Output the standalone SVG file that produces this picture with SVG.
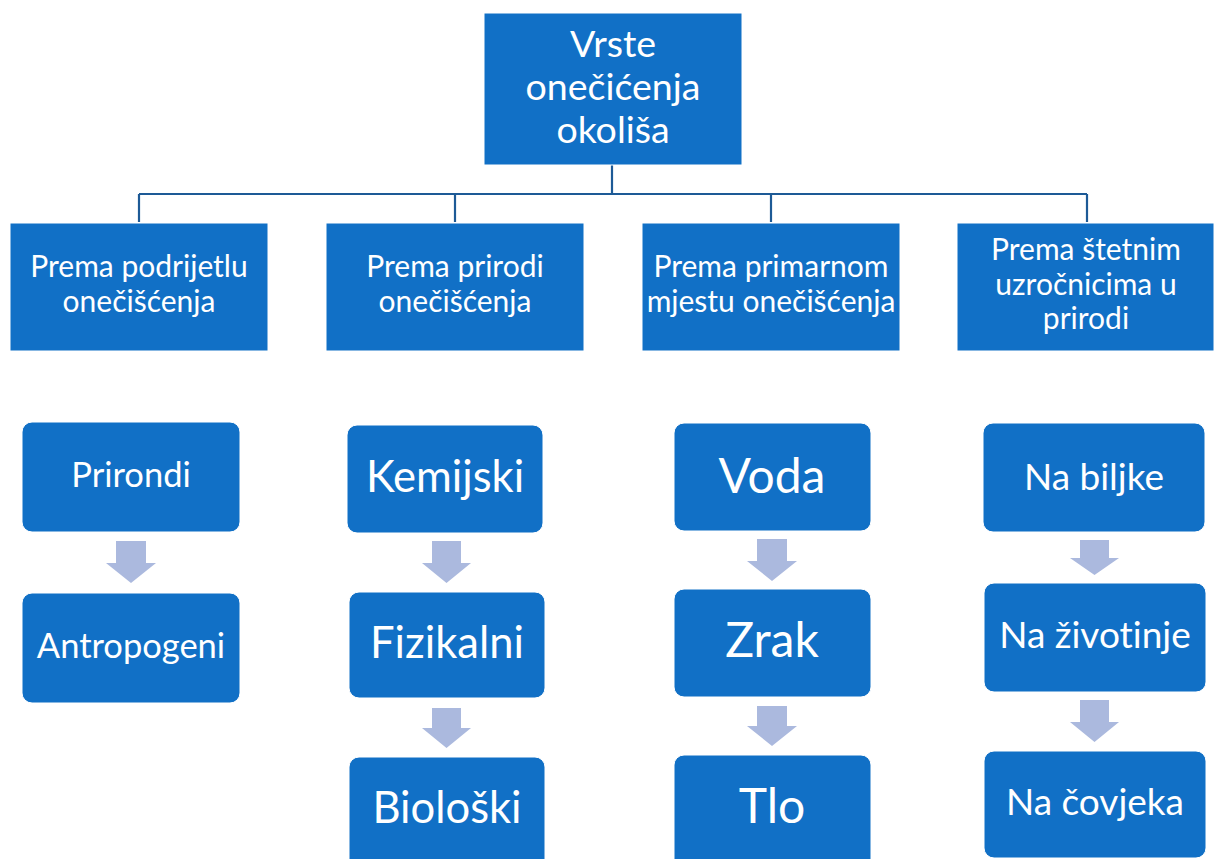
<svg xmlns="http://www.w3.org/2000/svg" width="1214" height="859" viewBox="0 0 1214 859">
<style>
.box{fill:#1170C6;stroke:#ffffff;stroke-width:1}
.t{font-family:Lato,"Liberation Sans",sans-serif;fill:#ffffff;text-anchor:middle;font-variant-ligatures:none}
.h{font-size:37.5px}
.l1{font-size:30px}
.s2{font-size:34.5px}
.s3{font-size:43.5px}
.s4{font-size:48px}
.s5{font-size:37px}
.arr{fill:#ABB9DE}
.con{fill:none;stroke:#1D5A96;stroke-width:2.2}
</style>
<rect width="1214" height="859" fill="#ffffff"/>
<g id="connectors">
<path class="con" d="M612 165V194M139 194H1087M139 194V222M455 194V222M771 194V222M1087 194V222"/>
<path class="arr" d="M116 541H146V563H156L131 583L106 563H116Z"/>
<path class="arr" d="M432 541H461V563H471L446.5 583L422 563H432Z"/>
<path class="arr" d="M432 708H461V728H471L446.5 748L422 728H432Z"/>
<path class="arr" d="M757 539H787V561H797L772 581L747 561H757Z"/>
<path class="arr" d="M757 706H787V726H797L772 746L747 726H757Z"/>
<path class="arr" d="M1080 540H1109V558H1119L1094.5 575L1070 558H1080Z"/>
<path class="arr" d="M1080 700H1109V722H1119L1094.5 742L1070 722H1080Z"/>
</g>
<g id="root"><rect class="box" x="484" y="13" width="258" height="152"/>
<text class="t h" x="613" y="57">Vrste</text><text class="t h" x="613" y="100">onečićenja</text><text class="t h" x="613" y="143">okoliša</text></g>
<g id="c1"><rect class="box" x="10" y="223" width="258" height="128"/>
<text class="t l1" x="139" y="277">Prema podrijetlu</text><text class="t l1" x="139" y="312">onečišćenja</text></g>
<g id="c2"><rect class="box" x="326" y="223" width="258" height="128"/>
<text class="t l1" x="455" y="277">Prema prirodi</text><text class="t l1" x="455" y="312">onečišćenja</text></g>
<g id="c3"><rect class="box" x="642" y="223" width="258" height="128"/>
<text class="t l1" x="771" y="277">Prema primarnom</text><text class="t l1" x="771" y="312">mjestu onečišćenja</text></g>
<g id="c4"><rect class="box" x="957" y="223" width="257" height="128"/>
<text class="t l1" x="1086" y="260">Prema štetnim</text><text class="t l1" x="1086" y="295">uzročnicima u</text><text class="t l1" x="1086" y="329">prirodi</text></g>
<g id="n11"><rect class="box" x="22" y="422" width="218" height="110" rx="10"/><text class="t s2" x="131" y="487">Prirondi</text></g>
<g id="n12"><rect class="box" x="22" y="593" width="218" height="110" rx="10"/><text class="t s2" x="131" y="658">Antropogeni</text></g>
<g id="n21"><rect class="box" x="347" y="425" width="196" height="108" rx="10"/><text class="t s3" x="445" y="492">Kemijski</text></g>
<g id="n22"><rect class="box" x="349" y="592" width="196" height="106" rx="10"/><text class="t s3" x="447" y="658">Fizikalni</text></g>
<g id="n23"><rect class="box" x="349" y="757" width="196" height="112" rx="10"/><text class="t s3" x="447" y="823">Biološki</text></g>
<g id="n31"><rect class="box" x="674" y="423" width="197" height="108" rx="10"/><text class="t s4" x="772" y="493">Voda</text></g>
<g id="n32"><rect class="box" x="674" y="589" width="197" height="108" rx="10"/><text class="t s4" x="772" y="657">Zrak</text></g>
<g id="n33"><rect class="box" x="674" y="755" width="197" height="114" rx="10"/><text class="t s4" x="772" y="823">Tlo</text></g>
<g id="n41"><rect class="box" x="983" y="423" width="222" height="109" rx="10"/><text class="t s5" x="1094" y="490">Na biljke</text></g>
<g id="n42"><rect class="box" x="984" y="583" width="222" height="109" rx="10"/><text class="t s5" x="1095" y="648">Na životinje</text></g>
<g id="n43"><rect class="box" x="984" y="751" width="222" height="107" rx="10"/><text class="t s5" x="1095" y="815">Na čovjeka</text></g>
</svg>
